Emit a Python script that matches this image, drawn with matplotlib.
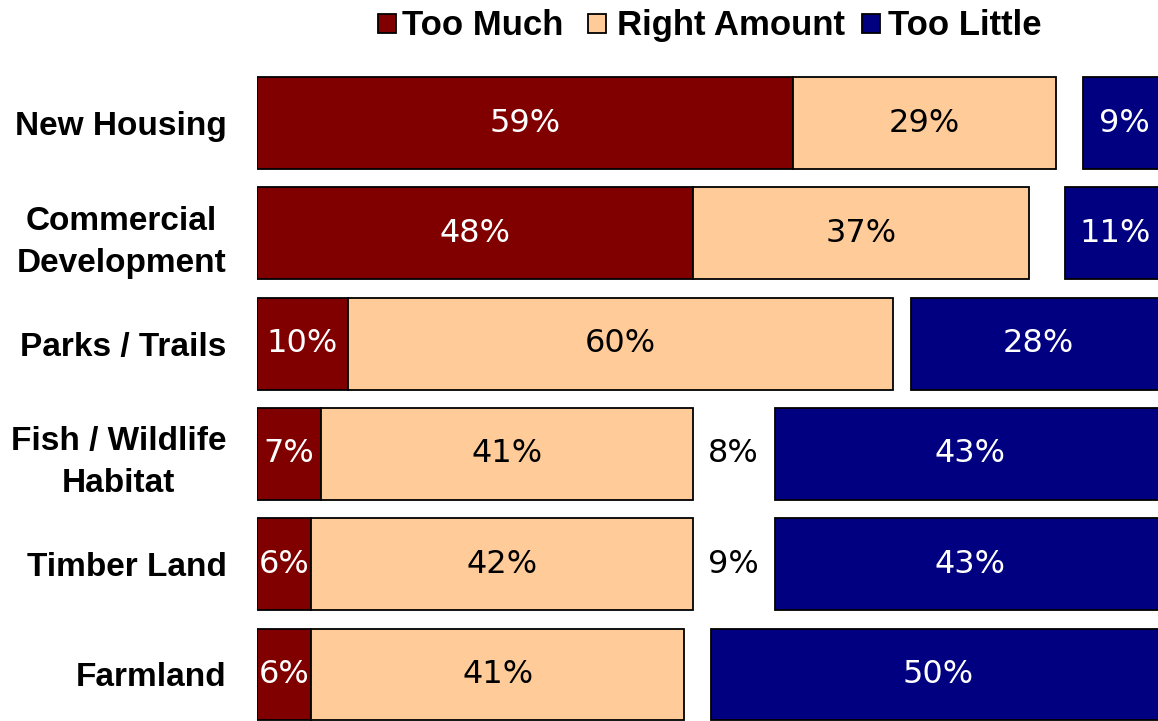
import matplotlib
matplotlib.use("Agg")
import matplotlib.pyplot as plt
from matplotlib.patches import Rectangle

categories = ["New Housing", "Commercial\nDevelopment", "Parks / Trails",
              "Fish / Wildlife\nHabitat", "Timber Land", "Farmland"]
too_much = [59, 48, 10, 7, 6, 6]
right_amount = [29, 37, 60, 41, 42, 41]
dont_know = [3, 4, 2, 8, 9, 3]
too_little = [9, 11, 28, 43, 43, 50]
series_names = ["Too Much", "Right Amount", "Too Little"]

c_much = "#800000"
c_right = "#FFCC99"
c_little = "#000080"

W, H = 1158, 721
fig = plt.figure(figsize=(W / 100, H / 100), dpi=100)
scale = 9.08
left_px = 257
row_h = 110.3
top_px = 123 - row_h / 2
ax = fig.add_axes([left_px / W, (H - (top_px + 6 * row_h)) / H,
                   100 * scale / W, 6 * row_h / H])

y = list(range(len(categories)))
bh = 0.834
lw = 1.3
ax.barh(y, too_much, height=bh, color=c_much, edgecolor="black", linewidth=lw)
ax.barh(y, right_amount, left=too_much, height=bh, color=c_right,
        edgecolor="black", linewidth=lw)
little_left = [100 - t for t in too_little]
ax.barh(y, too_little, left=little_left, height=bh, color=c_little,
        edgecolor="black", linewidth=lw)

fs = 23
for i in y:
    m, r, d, t = too_much[i], right_amount[i], dont_know[i], too_little[i]
    ax.text(m / 2, i, f"{m}%", ha="center", va="center", color="white",
            fontsize=fs, family="DejaVu Sans")
    ax.text(m + r / 2, i, f"{r}%", ha="center", va="center", color="black",
            fontsize=fs, family="DejaVu Sans")
    if d >= 5:
        gap_mid = (m + r + 100 - t) / 2
        ax.text(gap_mid, i, f"{d}%", ha="center", va="center", color="black",
                fontsize=fs, family="DejaVu Sans")
    ax.text(100 - t / 2, i, f"{t}%", ha="center", va="center", color="white",
            fontsize=fs, family="DejaVu Sans")

ax.set_xlim(0, 100)
ax.set_ylim(len(categories) - 0.5, -0.5)
ax.set_yticks(y)
ax.set_yticklabels(categories, fontsize=24, fontweight="bold",
                   family="Liberation Sans", linespacing=1.45, ha="right",
                   multialignment="center")
ax.tick_params(axis="y", length=0, pad=22)
ax.set_xticks([])
for s in ax.spines.values():
    s.set_visible(False)

# legend drawn manually so that all entries share one baseline
square_x = [378, 588, 862]
text_x = [402, 617, 888]
for sx, tx, name, col in zip(square_x, text_x, series_names,
                             (c_much, c_right, c_little)):
    fig.patches.append(Rectangle((sx / W, 1 - 33 / H), 18 / W, 19 / H,
                                 transform=fig.transFigure, facecolor=col,
                                 edgecolor="black", linewidth=1.3))
    fig.text(tx / W, 1 - 35 / H, name, ha="left", va="baseline",
             fontsize=25, fontweight="bold", family="Liberation Sans")

fig.savefig("out.png", dpi=100)
